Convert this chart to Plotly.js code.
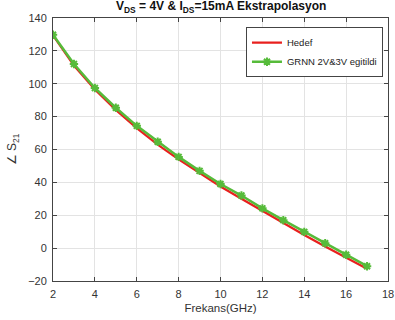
<!DOCTYPE html>
<html><head><meta charset="utf-8">
<script src="https://cdn.plot.ly/plotly-3.0.1.min.js"></script>
<style>html,body{margin:0;padding:0;background:#fff}#g{width:395px;height:320px}</style>
</head><body><div id="g"></div>
<script>
const freq = [2,3,4,5,6,7,8,9,10,11,12,13,14,15,16,17];
const hedef = [129.5,111,96.5,84,73,63,54,45.5,37.5,30,22.5,15,8,1,-5.5,-12.5];
const grnn = [129.8,112,97.4,85.4,74.4,64.7,55.5,47,39,32,24.2,17,9.9,3,-4,-11];
const xTicks = [2,4,6,8,10,12,14,16,18];
const yTicks = [-20,0,20,40,60,80,100,120,140];

const traces = [
 {x:freq, y:hedef, name:'Hedef', mode:'lines', line:{color:'#e8201e', width:2.2}},
 {x:freq, y:grnn, name:'GRNN 2V&3V egitildi', mode:'lines+markers',
  line:{color:'#56bb3a', width:2.5},
  marker:{symbol:'asterisk-open', size:7, color:'#56bb3a', line:{color:'#56bb3a', width:2}}}
];
const ax = {showline:true, mirror:'ticks', linecolor:'#444', linewidth:1, ticks:'inside', ticklen:4, tickcolor:'#444',
  showgrid:true, gridcolor:'#e3e3e3', zeroline:false, ticklabelstandoff:3,
  tickfont:{size:11, color:'#333', family:'Liberation Sans, Arial'}};
const layout = {
 width:395, height:320, margin:{l:53, r:7, t:18, b:39},
 paper_bgcolor:'#fff', plot_bgcolor:'#fff',
 font:{family:'Liberation Sans, Arial', color:'#222'},
 title:{text:'<b>V<sub>DS</sub> = 4V & I<sub>DS</sub>=15mA Ekstrapolasyon</b>', font:{size:12, color:'#111'}, x:0.56, xanchor:'center', y:0.995, yanchor:'top'},
 xaxis:Object.assign({}, ax, {range:[2,18], tickvals:xTicks, title:{text:'Frekans(GHz)', font:{size:11.5, color:'#333'}, standoff:4}}),
 yaxis:Object.assign({}, ax, {range:[-20,140], tickvals:yTicks, title:{text:'∠ S<sub>21</sub>', font:{size:12, color:'#333'}, standoff:8}}),
 legend:{x:0.985, y:0.965, xanchor:'right', yanchor:'top', bgcolor:'#fff', bordercolor:'#444', borderwidth:1,
   font:{size:9.5, color:'#222'}, tracegroupgap:0, itemwidth:30},
 showlegend:true
};
Plotly.newPlot('g', traces, layout, {staticPlot:true, displayModeBar:false});
</script></body></html>
